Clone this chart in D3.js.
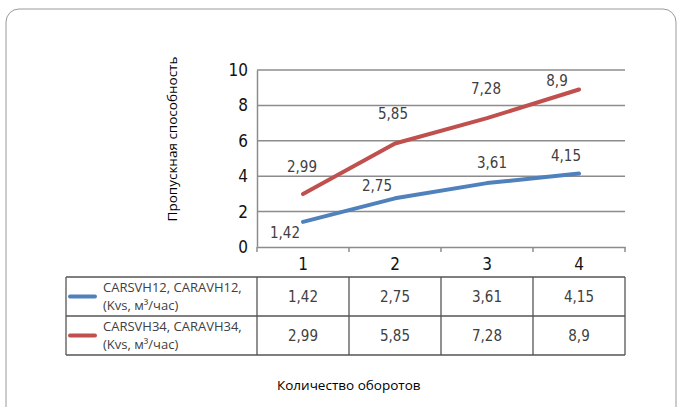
<!DOCTYPE html>
<html>
<head>
<meta charset="utf-8">
<script src="https://cdn.jsdelivr.net/npm/d3@7"></script>
<style>
  body { margin: 0; background: #fff; }
  svg { display: block; }
  .num { font-family: "Liberation Sans Narrow", "DejaVu Sans Condensed", sans-serif; }
  .txt { font-family: "Open Sans", "Noto Sans", sans-serif; }
</style>
</head>
<body>
<svg id="chart" width="682" height="407"></svg>
<script>
// Data
const turns = [1, 2, 3, 4];
const seriesNames = [
  ["CARSVH12, CARAVH12,", "(Kvs, м³/час)"],
  ["CARSVH34, CARAVH34,", "(Kvs, м³/час)"]
];
const small = [1.42, 2.75, 3.61, 4.15];
const large = [2.99, 5.85, 7.28, 8.9];
const yTicks = [0, 2, 4, 6, 8, 10];

// label nudges (layout, not data): [dx, dy] from the point
const smallLabelOffset = [[-18, 11], [-18, -12], [5, -20], [-13, -18]];
const largeLabelOffset = [[-1, -27], [-2, -29], [-1, -29], [-22, -8]];

const colors = ["#4F81BD", "#C0504D"];
const fmt = v => String(v).replace(".", ",");

const svg = d3.select("#chart");

// outer frame
svg.append("rect")
  .attr("x", 6).attr("y", 9)
  .attr("width", 670).attr("height", 420)
  .attr("rx", 13)
  .attr("fill", "#fff")
  .attr("stroke", "#9a9a9a")
  .attr("stroke-width", 1);

const x = d3.scaleBand().domain(turns).range([257, 625]);
const y = d3.scaleLinear().domain([0, 10]).range([247, 70]);

// gridlines
svg.append("g")
  .selectAll("line")
  .data(yTicks.filter(d => d > 0))
  .enter()
  .append("line")
  .attr("x1", 257).attr("x2", 625)
  .attr("y1", d => y(d)).attr("y2", d => y(d))
  .attr("stroke", "#8c8c8c")
  .attr("stroke-width", 1.5);

// y axis
const yAxis = svg.append("g")
  .attr("transform", "translate(257,0)")
  .call(d3.axisLeft(y).tickValues(yTicks).tickSize(0).tickPadding(9).tickFormat(d3.format("d")));
yAxis.select(".domain").attr("stroke", "#8c8c8c").attr("stroke-width", 1.5);
yAxis.selectAll("text")
  .attr("class", "num")
  .style("font-size", "17px")
  .attr("fill", "#111");

// x axis with boundary ticks
const xAxis = svg.append("g")
  .attr("transform", "translate(0,247)")
  .call(d3.axisBottom(x).tickSize(0).tickPadding(11));
xAxis.select(".domain").attr("stroke", "#8c8c8c").attr("stroke-width", 1.5);
xAxis.selectAll("text")
  .attr("class", "num")
  .style("font-size", "17px")
  .attr("fill", "#111");
xAxis.selectAll(".bound")
  .data(turns.map(d => x(d)).concat([x.range()[1]]))
  .enter()
  .append("line")
  .attr("x1", d => d).attr("x2", d => d)
  .attr("y1", 0).attr("y2", 5)
  .attr("stroke", "#8c8c8c")
  .attr("stroke-width", 1.5);

// lines
const line = d3.line()
  .x((d, i) => x(turns[i]) + x.bandwidth() / 2)
  .y(d => y(d));

[small, large].forEach((vals, s) => {
  svg.append("path")
    .datum(vals)
    .attr("d", line)
    .attr("fill", "none")
    .attr("stroke", colors[s])
    .attr("stroke-width", 4)
    .attr("stroke-linecap", "round")
    .attr("stroke-linejoin", "round");
});

// data labels
[[small, smallLabelOffset], [large, largeLabelOffset]].forEach(([vals, offs]) => {
  svg.append("g")
    .selectAll("text")
    .data(vals)
    .enter()
    .append("text")
    .attr("class", "num")
    .attr("x", (d, i) => x(turns[i]) + x.bandwidth() / 2 + offs[i][0])
    .attr("y", (d, i) => y(d) + offs[i][1])
    .attr("text-anchor", "middle")
    .attr("dominant-baseline", "central")
    .style("font-size", "15px")
    .attr("fill", "#404040")
    .text(d => fmt(d));
});

// y axis title
svg.append("text")
  .attr("class", "txt")
  .attr("transform", "translate(172,139) rotate(-90)")
  .attr("text-anchor", "middle")
  .attr("dominant-baseline", "central")
  .style("font-size", "13.5px")
  .attr("fill", "#000")
  .text("Пропускная способность");

// data table
const tLeft = 66, rowTop = 277, rowH = 39;
const table = svg.append("g");
[small, large].forEach((vals, r) => {
  const top = rowTop + r * rowH;
  table.append("line")
    .attr("x1", tLeft + 4).attr("x2", tLeft + 29)
    .attr("y1", top + rowH / 2).attr("y2", top + rowH / 2)
    .attr("stroke", colors[r])
    .attr("stroke-width", 4)
    .attr("stroke-linecap", "round");
  table.append("text")
    .attr("class", "txt")
    .attr("x", tLeft + 37)
    .attr("y", top + 15)
    .style("font-size", "13px")
    .attr("fill", "#404040")
    .text(seriesNames[r][0]);
  table.append("text")
    .attr("class", "txt")
    .attr("x", tLeft + 37)
    .attr("y", top + 33)
    .style("font-size", "13px")
    .attr("fill", "#404040")
    .text(seriesNames[r][1]);
  table.selectAll(".v" + r)
    .data(vals)
    .enter()
    .append("text")
    .attr("class", "num")
    .attr("x", (d, i) => x(turns[i]) + x.bandwidth() / 2)
    .attr("y", top + rowH / 2)
    .attr("text-anchor", "middle")
    .attr("dominant-baseline", "central")
    .style("font-size", "15px")
    .attr("fill", "#404040")
    .text(d => fmt(d));
});
// table grid
const colEdges = [tLeft].concat(turns.map(d => x(d))).concat([x.range()[1]]);
table.selectAll(".col")
  .data(colEdges)
  .enter()
  .append("line")
  .attr("x1", d => d).attr("x2", d => d)
  .attr("y1", rowTop).attr("y2", rowTop + 2 * rowH)
  .attr("stroke", "#555")
  .attr("stroke-width", 1.3);
table.selectAll(".row")
  .data([0, 1, 2])
  .enter()
  .append("line")
  .attr("x1", tLeft).attr("x2", x.range()[1])
  .attr("y1", r => rowTop + r * rowH).attr("y2", r => rowTop + r * rowH)
  .attr("stroke", "#555")
  .attr("stroke-width", 1.3);

// x axis title
svg.append("text")
  .attr("class", "txt")
  .attr("x", 277)
  .attr("y", 385)
  .attr("dominant-baseline", "central")
  .style("font-size", "13.5px")
  .attr("fill", "#000")
  .text("Количество оборотов");
</script>
</body>
</html>
